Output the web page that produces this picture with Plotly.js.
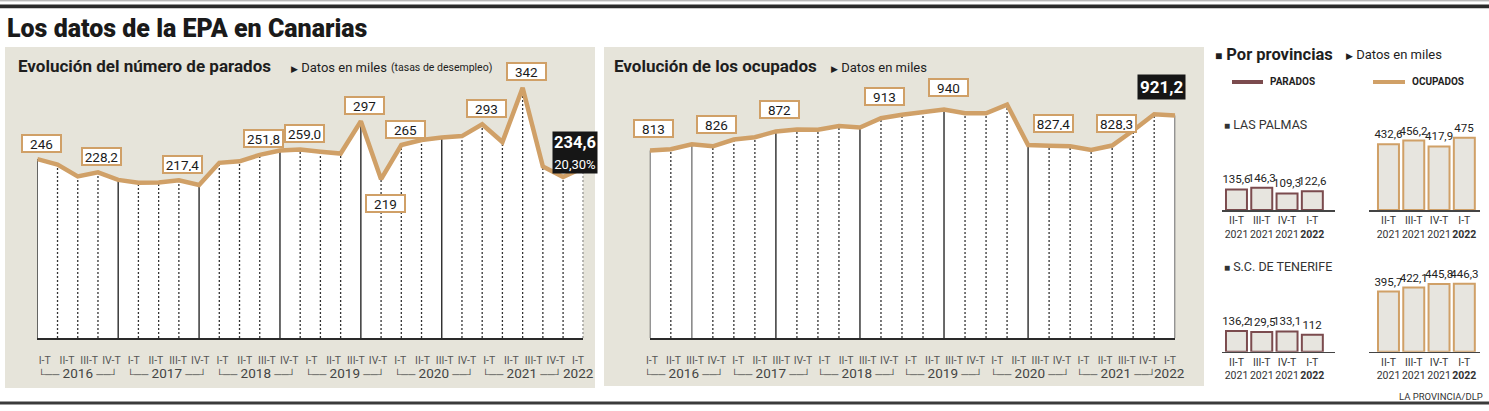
<!DOCTYPE html>
<html>
<head>
<meta charset="utf-8">
<script src="https://cdn.plot.ly/plotly-3.0.1.min.js"></script>
<style>
  html, body { margin: 0; padding: 0; background: #ffffff; }
  #chart { width: 1489px; height: 411px; }
</style>
</head>
<body>
<div id="chart"></div>
<script>
// ---------------- DATA ----------------
// Evolución del número de parados (miles)
const paradosSerie = [246, 238.6, 222.8, 228.2, 218, 214.3, 214.5, 217.4, 211.2, 241, 243, 251.8, 257.5, 259.0,
  256, 253.5, 297, 219, 265, 271.8, 275, 277, 293, 269, 342, 236, 222, 234.6];
const paradosLabelIdx = [0, 3, 7, 11, 13, 16, 17, 18, 22, 24];
const paradosLabelText = ['246', '228,2', '217,4', '251,8', '259,0', '297', '219', '265', '293', '342'];
const paradosUltimo = '234,6';
const tasaUltima = '20,30%';

// Evolución de los ocupados (miles)
const ocupadosSerie = [813, 817, 832, 826, 847, 854, 872, 878, 877, 889, 884, 913, 923.6, 930.4, 940,
  928, 928, 955, 830, 827.4, 826, 815, 828.3, 874.8, 925, 921.2];
const ocupadosLabelIdx = [0, 3, 6, 11, 14, 19, 22];
const ocupadosLabelText = ['813', '826', '872', '913', '940', '827,4', '828,3'];
const ocupadosUltimo = '921,2';

// Eje temporal
const trimestres = ['I-T', 'II-T', 'III-T', 'IV-T', 'I-T', 'II-T', 'III-T', 'IV-T', 'I-T', 'II-T', 'III-T', 'IV-T',
  'I-T', 'II-T', 'III-T', 'IV-T', 'I-T', 'II-T', 'III-T', 'IV-T', 'I-T', 'II-T', 'III-T', 'IV-T', 'I-T'];
const anios = ['2016', '2017', '2018', '2019', '2020', '2021', '2022'];

// Por provincias
const provTrim = ['II-T', 'III-T', 'IV-T', 'I-T'];
const provAnio = ['2021', '2021', '2021', '2022'];
const lpParados = [135.6, 146.3, 109.3, 122.6];
const lpOcupados = [432.6, 456.2, 417.9, 475];
const tfParados = [136.2, 129.5, 133.1, 112];
const tfOcupados = [395.7, 422.1, 445.8, 446.3];

// ---------------- STYLE / LAYOUT ----------------
const W = 1489, H = 411;
const px = x => x / W;
const py = y => 1 - y / H;
const FN = "Roboto, 'Liberation Sans', sans-serif";
const TAN = '#d0a067';
const BROWN = '#7b4b4e';
const BEIGE = '#e6e4da';
const fmt = v => String(v).replace('.', ',');

const traces = [];
const annotations = [];

function mainChart(series, xa, ya, yMin, solidIdx, grayIdx) {
  const xs = series.map((_, i) => i);
  traces.push({ x: xs, y: series, xaxis: xa, yaxis: ya, mode: 'lines', fill: 'tozeroy',
    fillcolor: '#ffffff', line: { width: 0, color: 'rgba(0,0,0,0)' }, hoverinfo: 'skip', showlegend: false });
  const groups = { solid: { x: [], y: [] }, gray: { x: [], y: [] }, dot: { x: [], y: [] } };
  series.forEach((v, i) => {
    const g = solidIdx.includes(i) ? 'solid' : (grayIdx.includes(i) ? 'gray' : 'dot');
    groups[g].x.push(i, i, null);
    groups[g].y.push(yMin, v, null);
  });
  traces.push({ x: groups.dot.x, y: groups.dot.y, xaxis: xa, yaxis: ya, mode: 'lines',
    line: { color: '#333', width: 1.3, dash: '2px,2px' }, hoverinfo: 'skip', showlegend: false });
  traces.push({ x: groups.gray.x, y: groups.gray.y, xaxis: xa, yaxis: ya, mode: 'lines',
    line: { color: '#8a8a8a', width: 1.6 }, hoverinfo: 'skip', showlegend: false });
  traces.push({ x: groups.solid.x, y: groups.solid.y, xaxis: xa, yaxis: ya, mode: 'lines',
    line: { color: '#2a2a2a', width: 1.4 }, hoverinfo: 'skip', showlegend: false });
  traces.push({ x: xs, y: series, xaxis: xa, yaxis: ya, mode: 'lines', cliponaxis: false,
    line: { color: TAN, width: 4.5 }, hoverinfo: 'skip', showlegend: false });
}

const parRange = [5, 352.6];
const ocuRange = [233.4, 1031];
mainChart(paradosSerie, 'x', 'y', parRange[0], [0, 4, 8, 12, 16, 20], []);
mainChart(ocupadosSerie, 'x2', 'y2', ocuRange[0], [0, 6, 10, 14, 18, 25], [2]);

// tick positions spread evenly across each chart
const parTicks = trimestres.map((_, i) => 0.37 + i * (26.74 - 0.37) / (trimestres.length - 1));
const ocuTicks = trimestres.map((_, i) => 0.1 + i * (24.75 - 0.1) / (trimestres.length - 1));

function yearLabels(ticks, xa) {
  anios.forEach((yr, k) => {
    const idx = ticks.map((t, i) => i).filter(i => Math.floor(i / 4) === k);
    const cx = idx.reduce((s, i) => s + ticks[i], 0) / idx.length;
    const txt = k < anios.length - 1
      ? '<span style="font-size:10px">└──</span> ' + yr + ' <span style="font-size:10px">──┘</span>' : yr;
    annotations.push({ xref: xa, yref: 'paper', x: cx, y: py(373), text: txt, showarrow: false,
      font: { family: FN, size: 13.5, color: '#444' }, xanchor: 'center', yanchor: 'middle' });
  });
}
yearLabels(parTicks, 'x');
yearLabels(ocuTicks, 'x2');

function pointLabels(series, idxs, texts, xa, ya, dy) {
  idxs.forEach((i, k) => {
    const below = (k > 0 && series[i] < series[i - 1] - 30);
    annotations.push({ xref: xa, yref: ya, x: i, y: series[i], text: texts[k], showarrow: false,
      xshift: 4, yshift: below ? -24 : dy, width: 35, height: 13, borderpad: 1,
      bgcolor: '#ffffff', bordercolor: TAN, borderwidth: 2,
      font: { family: FN, size: 13.5, color: '#1a1a1a' } });
  });
}
pointLabels(paradosSerie, paradosLabelIdx, paradosLabelText, 'x', 'y', 16);
pointLabels(ocupadosSerie, ocupadosLabelIdx, ocupadosLabelText, 'x2', 'y2', 22);

// highlighted last values
annotations.push({ xref: 'x', yref: 'y', x: paradosSerie.length - 1, y: paradosSerie[paradosSerie.length - 1],
  text: '<b>' + paradosUltimo + '</b><br><span style="font-size:13px">' + tasaUltima + '</span>',
  showarrow: false, xshift: -8, yshift: 15, bgcolor: '#161616', borderpad: 1,
  font: { family: FN, size: 16.5, color: '#ffffff' } });
annotations.push({ xref: 'x2', yref: 'y2', x: ocupadosSerie.length - 1, y: ocupadosSerie[ocupadosSerie.length - 1],
  text: '<b>' + ocupadosUltimo + '</b>', showarrow: false, xshift: -14, yshift: 29,
  bgcolor: '#161616', borderpad: 2, font: { family: FN, size: 17, color: '#ffffff' } });

// bar charts por provincias
function barChart(vals, xa, ya, color) {
  traces.push({ type: 'bar', x: vals.map((_, i) => i), y: vals, xaxis: xa, yaxis: ya, width: 0.83,
    marker: { color: '#e7e5df', line: { color: color, width: 2 } },
    text: vals.map(fmt), textposition: 'outside', constraintext: 'none', cliponaxis: false,
    textfont: { family: FN, size: 11.5, color: '#222' }, hoverinfo: 'skip', showlegend: false });
}
barChart(lpParados, 'x3', 'y3', BROWN);
barChart(lpOcupados, 'x4', 'y4', TAN);
barChart(tfParados, 'x5', 'y5', BROWN);
barChart(tfOcupados, 'x6', 'y6', TAN);

const provTicktext = provTrim.map((q, i) => q + '<br>' + (i === provTrim.length - 1 ? '<b>' + provAnio[i] + '</b>' : provAnio[i]));

function mainX(dom, n, ticks, anchor) {
  return { domain: dom, range: [0, n - 1], anchor: anchor, showgrid: false, zeroline: false,
    showline: true, linecolor: '#2a2a2a', linewidth: 1.5, ticks: '', tickvals: ticks, ticktext: trimestres,
    tickangle: 0, ticklabelstandoff: 12, tickfont: { family: FN, size: 10.5, color: '#555' }, fixedrange: true };
}
function barX(dom, range, anchor) {
  return { domain: dom, range: range, anchor: anchor, showgrid: false, zeroline: false, showline: true,
    linecolor: '#444', linewidth: 1.5, ticks: '', tickvals: [0, 1, 2, 3], ticktext: provTicktext,
    tickangle: 0, tickfont: { family: FN, size: 10.5, color: '#333' }, fixedrange: true };
}
function hiddenY(dom, range, anchor) {
  return { domain: dom, range: range, anchor: anchor, visible: false, fixedrange: true };
}

const chartY = [py(338), py(80)];
const layout = {
  width: W, height: H, autosize: false,
  margin: { l: 0, r: 0, t: 0, b: 0, pad: 0 },
  paper_bgcolor: '#ffffff', plot_bgcolor: 'rgba(0,0,0,0)',
  showlegend: false,
  xaxis: mainX([px(37.3), px(583.3)], paradosSerie.length, parTicks, 'y'),
  yaxis: hiddenY(chartY, parRange, 'x'),
  xaxis2: mainX([px(649.8), px(1175.2)], ocupadosSerie.length, ocuTicks, 'y2'),
  yaxis2: hiddenY(chartY, ocuRange, 'x2'),
  xaxis3: barX([px(1221.8), px(1335.1)], [-0.58, 3.9], 'y3'),
  yaxis3: hiddenY([py(210), py(130)], [0, 526], 'x3'),
  xaxis4: barX([px(1369), px(1480)], [-0.77, 3.62], 'y4'),
  yaxis4: hiddenY([py(210), py(130)], [0, 526], 'x4'),
  xaxis5: barX([px(1221.8), px(1335.1)], [-0.58, 3.9], 'y5'),
  yaxis5: hiddenY([py(351.7), py(271.7)], [0, 526], 'x5'),
  xaxis6: barX([px(1369), px(1480)], [-0.77, 3.62], 'y6'),
  yaxis6: hiddenY([py(351.7), py(271.7)], [0, 526], 'x6'),
  shapes: [
    { type: 'line', xref: 'paper', yref: 'paper', x0: 0, x1: 1, y0: py(0.8), y1: py(0.8), line: { color: '#9a9a9a', width: 1 } },
    { type: 'rect', xref: 'paper', yref: 'paper', x0: 0, x1: 1, y0: py(8.3), y1: py(4.5), fillcolor: '#2a2a2a', line: { width: 0 } },
    { type: 'rect', xref: 'paper', yref: 'paper', x0: px(5), x1: px(595), y0: py(388), y1: py(47), fillcolor: BEIGE, line: { width: 0 }, layer: 'below' },
    { type: 'rect', xref: 'paper', yref: 'paper', x0: px(604), x1: px(1204), y0: py(386), y1: py(47), fillcolor: BEIGE, line: { width: 0 }, layer: 'below' },
    { type: 'line', xref: 'paper', yref: 'paper', x0: px(1232), x1: px(1263), y0: py(82), y1: py(82), line: { color: BROWN, width: 4 } },
    { type: 'line', xref: 'paper', yref: 'paper', x0: px(1373), x1: px(1405), y0: py(82), y1: py(82), line: { color: TAN, width: 4 } },
    { type: 'rect', xref: 'paper', yref: 'paper', x0: 0, x1: 1, y0: py(404.5), y1: py(401.5), fillcolor: '#3a3a3a', line: { width: 0 } }
  ],
  annotations: annotations
};

function txt(x, y, text, size, opts) {
  annotations.push(Object.assign({ xref: 'paper', yref: 'paper', x: px(x), y: py(y), text: text, showarrow: false,
    xanchor: 'left', yanchor: 'middle', font: { family: FN, size: size, color: '#1e1e1e' } }, opts || {}));
}
txt(5, 28, 'Los datos de la EPA en Canarias', 25, { font: { family: FN, size: 25, weight: 900, color: '#1a1a1a' } });
txt(16, 66, '<b>Evolución del número de parados</b>', 17);
txt(289, 67, '<span style="font-size:9px">▶</span> Datos en miles', 13);
txt(389, 67, '(tasas de desempleo)', 10.5);
txt(612, 66, '<b>Evolución de los ocupados</b>', 17);
txt(829, 67, '<span style="font-size:9px">▶</span> Datos en miles', 13);
txt(1213, 54, '<span style="font-size:12px">■</span> <b>Por provincias</b>', 16.5);
txt(1344, 55, '<span style="font-size:9px">▶</span> Datos en miles', 13);
txt(1268, 82, '<b>PARADOS</b>', 10);
txt(1410, 82, '<b>OCUPADOS</b>', 10);
txt(1222, 125, '<span style="font-size:10px">■</span> LAS PALMAS', 12.5, { font: { family: FN, size: 12.5, color: '#333' } });
txt(1222, 266, '<span style="font-size:10px">■</span> S.C. DE TENERIFE', 12.5, { font: { family: FN, size: 12.5, color: '#333' } });
txt(1485, 396, 'LA PROVINCIA/DLP', 9.5, { xanchor: 'right', font: { family: FN, size: 9.5, color: '#333' } });

Plotly.newPlot('chart', traces, layout, { staticPlot: true, displayModeBar: false });
</script>
</body>
</html>
